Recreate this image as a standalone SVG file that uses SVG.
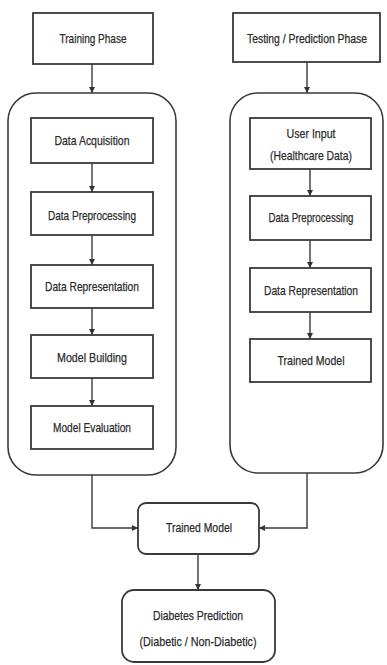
<svg xmlns="http://www.w3.org/2000/svg" width="387" height="665" viewBox="0 0 387 665">
<defs>
<style>
.box{fill:#fff;stroke:#3a3a3a;stroke-width:1.8}
.cont{fill:#fff;stroke:#3a3a3a;stroke-width:1.6}
.t{font-family:"Liberation Sans",Arial,sans-serif;font-size:13.5px;fill:#2b2b2b;stroke:#2b2b2b;stroke-width:0.25;text-anchor:middle}
.ln{fill:none;stroke:#3a3a3a;stroke-width:1.4}
</style>
<marker id="ah" viewBox="0 0 10 10" refX="10" refY="5" markerWidth="6" markerHeight="6" orient="auto" markerUnits="userSpaceOnUse">
<path d="M0,0 L10,5 L0,10 z" fill="#333"/>
</marker>
</defs>
<rect width="387" height="665" fill="#fff"/>
<g id="training-container"><rect class="cont" x="8" y="93" width="168" height="382" rx="28" ry="28"/></g>
<g id="testing-container"><rect class="cont" x="230" y="93" width="153" height="380" rx="28" ry="28"/></g>
<g id="training-phase"><rect class="box" x="33" y="13" width="120" height="51"/><text class="t" x="93" y="43" textLength="67" lengthAdjust="spacingAndGlyphs">Training Phase</text></g>
<g id="testing-phase"><rect class="box" x="233" y="13" width="147" height="49"/><text class="t" x="307" y="43" style="font-size:12px" textLength="120" lengthAdjust="spacingAndGlyphs">Testing / Prediction Phase</text></g>
<g id="data-acquisition"><rect class="box" x="31" y="118" width="122" height="45"/><text class="t" x="92" y="145" textLength="75" lengthAdjust="spacingAndGlyphs">Data Acquisition</text></g>
<g id="data-preprocessing-l"><rect class="box" x="31" y="192" width="122" height="43"/><text class="t" x="92" y="220" textLength="88" lengthAdjust="spacingAndGlyphs">Data Preprocessing</text></g>
<g id="data-representation-l"><rect class="box" x="31" y="265" width="122" height="43"/><text class="t" x="92" y="291" textLength="94" lengthAdjust="spacingAndGlyphs">Data Representation</text></g>
<g id="model-building"><rect class="box" x="31" y="335" width="122" height="43"/><text class="t" x="92" y="362" textLength="70" lengthAdjust="spacingAndGlyphs">Model Building</text></g>
<g id="model-evaluation"><rect class="box" x="31" y="406" width="122" height="43"/><text class="t" x="92" y="432" textLength="78" lengthAdjust="spacingAndGlyphs">Model Evaluation</text></g>
<g id="user-input"><rect class="box" x="250" y="118" width="121" height="51"/><text class="t" x="311" y="138" textLength="49" lengthAdjust="spacingAndGlyphs">User Input</text><text class="t" x="311" y="160" textLength="82" lengthAdjust="spacingAndGlyphs">(Healthcare Data)</text></g>
<g id="data-preprocessing-r"><rect class="box" x="250" y="196" width="121" height="44"/><text class="t" x="311" y="222" textLength="85" lengthAdjust="spacingAndGlyphs">Data Preprocessing</text></g>
<g id="data-representation-r"><rect class="box" x="250" y="268" width="121" height="44"/><text class="t" x="311" y="295" textLength="94" lengthAdjust="spacingAndGlyphs">Data Representation</text></g>
<g id="trained-model-r"><rect class="box" x="250" y="339" width="121" height="43"/><text class="t" x="311" y="365" textLength="67" lengthAdjust="spacingAndGlyphs">Trained Model</text></g>
<g id="trained-model"><rect class="box" x="138" y="503" width="121" height="51" rx="8" ry="8"/><text class="t" x="199" y="532" textLength="66" lengthAdjust="spacingAndGlyphs">Trained Model</text></g>
<g id="diabetes-prediction"><rect class="box" x="122" y="590" width="153" height="72" rx="12" ry="12"/><text class="t" x="198" y="620" textLength="90" lengthAdjust="spacingAndGlyphs">Diabetes Prediction</text><text class="t" x="198" y="646" textLength="117" lengthAdjust="spacingAndGlyphs">(Diabetic / Non-Diabetic)</text></g>
<g id="connectors">
<line class="ln" x1="92" y1="64" x2="92" y2="93" marker-end="url(#ah)"/>
<line class="ln" x1="307" y1="62" x2="307" y2="93" marker-end="url(#ah)"/>
<line class="ln" x1="92" y1="163" x2="92" y2="192" marker-end="url(#ah)"/>
<line class="ln" x1="92" y1="235" x2="92" y2="265" marker-end="url(#ah)"/>
<line class="ln" x1="92" y1="308" x2="92" y2="335" marker-end="url(#ah)"/>
<line class="ln" x1="92" y1="378" x2="92" y2="406" marker-end="url(#ah)"/>
<line class="ln" x1="310" y1="169" x2="310" y2="196" marker-end="url(#ah)"/>
<line class="ln" x1="310" y1="240" x2="310" y2="268" marker-end="url(#ah)"/>
<line class="ln" x1="310" y1="312" x2="310" y2="339" marker-end="url(#ah)"/>
<path class="ln" d="M92,475 V528 H138" marker-end="url(#ah)"/>
<path class="ln" d="M307,473 V528 H259" marker-end="url(#ah)"/>
<line class="ln" x1="198" y1="554" x2="198" y2="590" marker-end="url(#ah)"/>
</g>
</svg>
